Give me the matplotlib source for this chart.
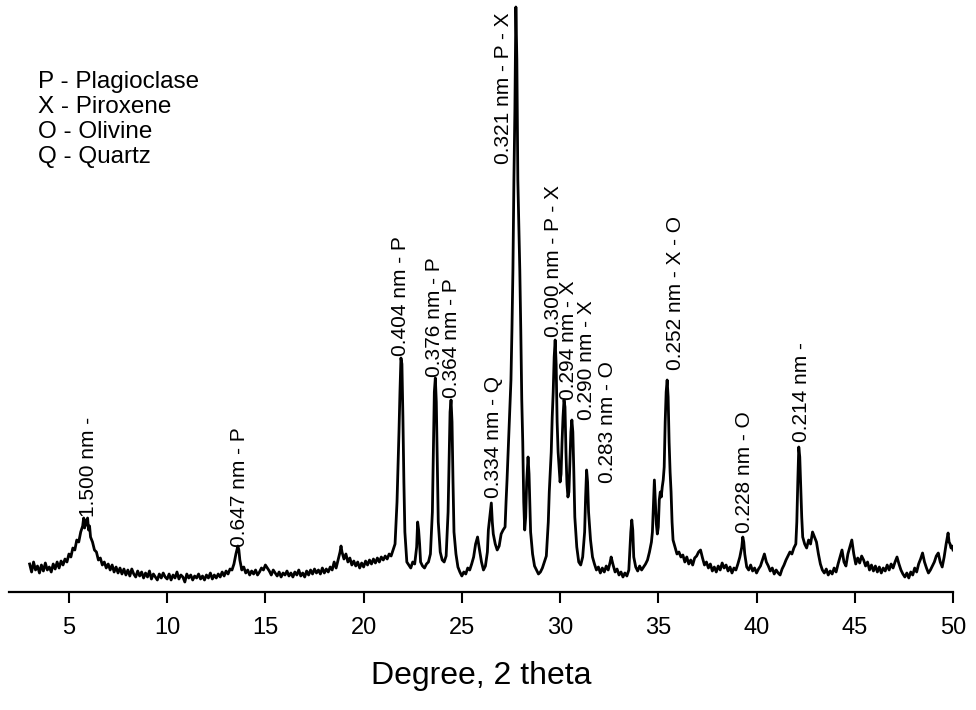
import matplotlib
matplotlib.use('Agg')
import matplotlib.pyplot as plt

plt.rcParams['font.family'] = ['Liberation Sans', 'DejaVu Sans']

# 2 theta (degrees) and intensity (arb. units)
two_theta = [
    3.0, 3.1, 3.2, 3.3, 3.4, 3.5, 3.6, 3.7, 3.8, 3.9, 4.0, 4.1, 4.2, 4.3, 4.4, 4.5, 4.6, 4.7, 4.8, 4.9,
    5.0, 5.1, 5.2, 5.3, 5.4, 5.5, 5.6, 5.7, 5.75, 5.8, 5.85, 5.9, 5.95, 6.0, 6.05, 6.1, 6.2, 6.3, 6.4, 6.5,
    6.6, 6.7, 6.8, 6.9, 7.0, 7.1, 7.2, 7.3, 7.4, 7.5, 7.6, 7.7, 7.8, 7.9, 8.0, 8.1, 8.2, 8.3, 8.4, 8.5,
    8.6, 8.7, 8.8, 8.9, 9.0, 9.1, 9.2, 9.3, 9.4, 9.5, 9.6, 9.7, 9.8, 9.9, 10.0, 10.1, 10.2, 10.3, 10.4, 10.5,
    10.6, 10.7, 10.8, 10.9, 11.0, 11.1, 11.2, 11.3, 11.4, 11.5, 11.6, 11.7, 11.8, 11.9, 12.0, 12.1, 12.2, 12.3, 12.4, 12.5,
    12.6, 12.7, 12.8, 12.9, 13.0, 13.1, 13.2, 13.3, 13.4, 13.5, 13.6, 13.65, 13.7, 13.8, 13.9, 14.0, 14.1, 14.2, 14.3, 14.4,
    14.5, 14.6, 14.7, 14.8, 14.9, 15.0, 15.1, 15.2, 15.3, 15.4, 15.5, 15.6, 15.7, 15.8, 15.9, 16.0, 16.1, 16.2, 16.3, 16.4,
    16.5, 16.6, 16.7, 16.8, 16.9, 17.0, 17.1, 17.2, 17.3, 17.4, 17.5, 17.6, 17.7, 17.8, 17.9, 18.0, 18.1, 18.2, 18.3, 18.4,
    18.5, 18.6, 18.7, 18.8, 18.85, 18.9, 19.0, 19.1, 19.2, 19.3, 19.4, 19.5, 19.6, 19.7, 19.8, 19.9, 20.0, 20.1, 20.2, 20.3,
    20.4, 20.5, 20.6, 20.7, 20.8, 20.9, 21.0, 21.1, 21.2, 21.3, 21.4, 21.5, 21.6, 21.7, 21.8, 21.85, 21.9, 21.95, 22.0, 22.05,
    22.1, 22.2, 22.3, 22.4, 22.5, 22.6, 22.7, 22.75, 22.8, 22.85, 22.9, 23.0, 23.1, 23.2, 23.3, 23.4, 23.5, 23.55, 23.6, 23.65,
    23.7, 23.75, 23.8, 23.9, 24.0, 24.1, 24.2, 24.3, 24.35, 24.4, 24.45, 24.5, 24.55, 24.6, 24.7, 24.8, 24.9, 25.0, 25.1, 25.2,
    25.3, 25.4, 25.5, 25.6, 25.7, 25.8, 25.9, 26.0, 26.1, 26.2, 26.3, 26.35, 26.45, 26.5, 26.55, 26.6, 26.7, 26.8, 26.9, 27.0,
    27.1, 27.2, 27.25, 27.3, 27.4, 27.5, 27.55, 27.6, 27.65, 27.7, 27.75, 27.8, 27.85, 27.95, 28.0, 28.05, 28.1, 28.15, 28.2, 28.25,
    28.3, 28.37, 28.42, 28.5, 28.6, 28.7, 28.8, 28.9, 29.0, 29.1, 29.2, 29.3, 29.4, 29.45, 29.5, 29.55, 29.6, 29.65, 29.7, 29.75,
    29.8, 29.85, 29.9, 29.95, 30.0, 30.05, 30.1, 30.15, 30.2, 30.25, 30.3, 30.35, 30.4, 30.45, 30.5, 30.55, 30.6, 30.65, 30.7, 30.75,
    30.85, 30.95, 31.05, 31.15, 31.25, 31.3, 31.35, 31.4, 31.45, 31.55, 31.65, 31.75, 31.85, 31.95, 32.05, 32.15, 32.25, 32.35, 32.45, 32.55,
    32.6, 32.7, 32.8, 32.9, 33.0, 33.1, 33.2, 33.3, 33.4, 33.5, 33.55, 33.6, 33.65, 33.7, 33.75, 33.85, 33.95, 34.05, 34.15, 34.25,
    34.35, 34.45, 34.55, 34.65, 34.7, 34.75, 34.8, 34.85, 34.9, 34.95, 35.0, 35.05, 35.1, 35.15, 35.2, 35.25, 35.3, 35.35, 35.4, 35.45,
    35.5, 35.55, 35.6, 35.65, 35.7, 35.75, 35.85, 35.95, 36.05, 36.15, 36.25, 36.35, 36.45, 36.55, 36.65, 36.75, 36.85, 36.95, 37.05, 37.15,
    37.25, 37.35, 37.45, 37.55, 37.65, 37.75, 37.85, 37.95, 38.05, 38.15, 38.25, 38.35, 38.45, 38.55, 38.65, 38.75, 38.85, 38.95, 39.05, 39.15,
    39.25, 39.3, 39.35, 39.4, 39.5, 39.6, 39.7, 39.8, 39.9, 40.0, 40.1, 40.2, 40.3, 40.4, 40.5, 40.6, 40.7, 40.8, 40.9, 41.0,
    41.1, 41.2, 41.3, 41.4, 41.5, 41.6, 41.7, 41.8, 41.9, 42.0, 42.05, 42.1, 42.15, 42.2, 42.25, 42.3, 42.35, 42.45, 42.55, 42.65,
    42.75, 42.85, 42.95, 43.05, 43.15, 43.25, 43.35, 43.45, 43.55, 43.65, 43.75, 43.85, 43.95, 44.05, 44.15, 44.25, 44.35, 44.45, 44.55, 44.65,
    44.75, 44.85, 44.95, 45.05, 45.15, 45.25, 45.35, 45.45, 45.55, 45.65, 45.75, 45.85, 45.95, 46.05, 46.15, 46.25, 46.35, 46.45, 46.55, 46.65,
    46.75, 46.85, 46.95, 47.05, 47.15, 47.25, 47.35, 47.45, 47.55, 47.65, 47.75, 47.85, 47.95, 48.05, 48.15, 48.25, 48.35, 48.45, 48.55, 48.65,
    48.75, 48.85, 48.95, 49.05, 49.15, 49.25, 49.35, 49.45, 49.55, 49.65, 49.75, 49.8, 49.85, 49.9, 49.95, 50.0,
]
intensity = [
    28, 20, 30, 22, 26, 19, 27, 21, 29, 22, 25, 20, 28, 23, 30, 24, 31, 27, 33, 30,
    38, 35, 44, 42, 52, 50, 60, 66, 74, 64, 72, 67, 74, 62, 66, 55, 50, 42, 40, 32,
    34, 27, 30, 24, 28, 22, 27, 20, 25, 19, 24, 18, 23, 17, 22, 16, 23, 18, 15, 21,
    16, 20, 14, 19, 15, 21, 13, 18, 15, 12, 18, 14, 19, 15, 13, 18, 12, 17, 14, 20,
    13, 17, 15, 10, 18, 14, 17, 12, 16, 14, 18, 13, 16, 12, 17, 14, 19, 13, 17, 14,
    18, 15, 20, 16, 21, 18, 23, 22, 28, 38, 46, 42, 32, 22, 25, 19, 22, 17, 21, 18,
    22, 17, 20, 24, 22, 27, 24, 21, 17, 22, 19, 16, 20, 15, 19, 17, 21, 16, 19, 15,
    20, 17, 22, 16, 19, 15, 21, 17, 22, 18, 23, 19, 22, 18, 24, 19, 23, 20, 25, 22,
    30, 24, 32, 40, 46, 40, 33, 38, 30, 34, 27, 31, 26, 30, 24, 29, 25, 31, 27, 32,
    28, 33, 29, 34, 30, 35, 32, 36, 33, 38, 36, 42, 48, 90, 160, 200, 234, 228, 175, 110,
    60, 30, 27, 24, 30, 28, 45, 70, 62, 48, 30, 26, 24, 28, 30, 38, 80, 140, 200, 214,
    190, 130, 70, 40, 32, 30, 36, 80, 130, 180, 192, 170, 110, 60, 38, 25, 20, 16, 20, 18,
    24, 22, 28, 35, 48, 55, 42, 30, 22, 26, 40, 62, 80, 89, 70, 58, 48, 42, 46, 58,
    62, 65, 90, 112, 162, 212, 262, 322, 412, 482, 585, 532, 412, 322, 262, 192, 150, 90, 62, 75,
    110, 135, 118, 60, 38, 26, 22, 18, 20, 24, 30, 36, 70, 100, 120, 140, 175, 200, 235, 252,
    228, 170, 140, 125, 110, 118, 150, 175, 192, 185, 140, 108, 95, 100, 130, 160, 172, 160, 120, 75,
    45, 30, 27, 35, 60, 95, 122, 110, 80, 52, 35, 28, 22, 25, 19, 24, 20, 26, 22, 30,
    35, 27, 20, 23, 17, 20, 15, 19, 16, 22, 40, 60, 72, 62, 35, 25, 21, 26, 22, 25,
    28, 32, 40, 50, 60, 85, 112, 90, 68, 58, 65, 92, 100, 95, 105, 112, 125, 170, 200, 212,
    195, 150, 120, 100, 70, 52, 45, 38, 40, 35, 37, 30, 35, 28, 32, 27, 34, 36, 40, 42,
    34, 27, 30, 24, 28, 21, 25, 20, 26, 22, 29, 24, 27, 21, 25, 19, 24, 22, 28, 35,
    45, 55, 50, 38, 25, 22, 27, 21, 24, 19, 23, 26, 32, 38, 30, 26, 21, 24, 18, 22,
    19, 17, 23, 27, 32, 36, 40, 38, 44, 48, 70, 110, 145, 135, 105, 75, 55, 48, 44, 52,
    48, 60, 55, 50, 38, 28, 22, 19, 23, 17, 21, 18, 24, 20, 28, 35, 42, 30, 26, 38,
    45, 52, 38, 28, 34, 29, 36, 32, 26, 30, 22, 27, 21, 26, 20, 25, 19, 24, 21, 27,
    22, 28, 24, 30, 35, 28, 22, 18, 15, 19, 14, 20, 17, 24, 20, 28, 33, 39, 30, 24,
    19, 22, 26, 30, 36, 39, 30, 25, 35, 48, 59, 50, 48, 44, 46, 42,
]

# peak annotations: text, position (deg) and height of the label foot
peak_labels = ['1.500 nm -', '0.647 nm - P', '0.404 nm - P', '0.376 nm - P', '0.364 nm - P',
               '0.334 nm - Q', '0.321 nm - P - X', '0.300 nm - P - X', '0.294 nm - X',
               '0.290 nm - X', '0.283 nm - O', '0.252 nm - X - O', '0.228 nm - O', '0.214 nm -']
label_x = [6.0, 13.7, 21.9, 23.6, 24.45, 26.6, 27.1, 29.65, 30.45, 31.35, 32.4, 35.85, 39.4, 42.3]
label_y = [75, 45, 236, 215, 194, 94, 428, 255, 192, 172, 109, 222, 59, 150]

legend_lines = ['P - Plagioclase', 'X - Piroxene', 'O - Olivine', 'Q - Quartz']

fig = plt.figure(figsize=(9.76, 7.10), dpi=100)
ax = fig.add_axes([9 / 976, 118 / 710, 944 / 976, 592 / 710])

ax.plot(two_theta, intensity, color='black', linewidth=2.0)

for txt, lx, ly in zip(peak_labels, label_x, label_y):
    ax.text(lx, ly, txt, rotation=90, ha='center', va='bottom', fontsize=15)

for i, line in enumerate(legend_lines):
    ax.text(0.031, 0.851 - i * 0.042, line, transform=ax.transAxes,
            ha='left', va='baseline', fontsize=17.5)

ax.set_xlim(1.95, 50)
ax.set_ylim(0, 592)
ax.set_xticks(range(5, 51, 5))
ax.set_yticks([])
for side in ['left', 'right', 'top']:
    ax.spines[side].set_visible(False)
ax.spines['bottom'].set_linewidth(1.6)
ax.tick_params(axis='x', direction='out', length=8, width=1.5, labelsize=17, pad=10)
ax.set_xlabel('Degree, 2 theta', fontsize=23, labelpad=16)

fig.savefig('out.png', dpi=100)
